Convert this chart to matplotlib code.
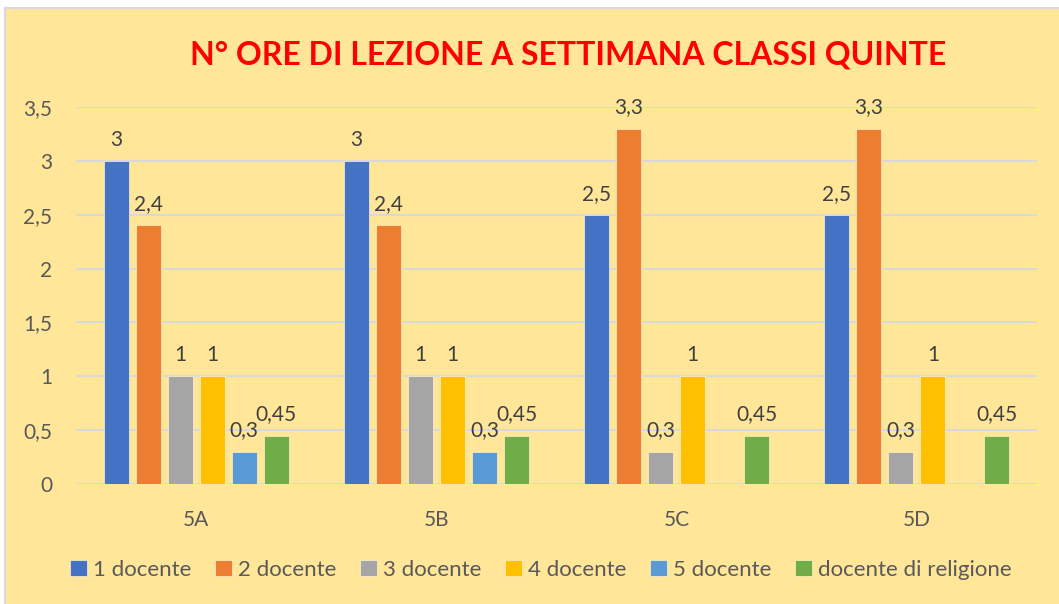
import numpy as np
import matplotlib
matplotlib.use('Agg')
import matplotlib.pyplot as plt
from matplotlib.patches import Rectangle

plt.rcParams['font.family'] = ['Lato', 'DejaVu Sans']

# data
classi = ['5A', '5B', '5C', '5D']
serie = ['1 docente', '2 docente', '3 docente', '4 docente', '5 docente', 'docente di religione']
doc1 = [3, 3, 2.5, 2.5]
doc2 = [2.4, 2.4, 3.3, 3.3]
doc3 = [1, 1, 0.3, 0.3]
doc4 = [1, 1, 1, 1]
doc5 = [0.3, 0.3, np.nan, np.nan]
religione = [0.45, 0.45, 0.45, 0.45]
valori = [doc1, doc2, doc3, doc4, doc5, religione]
colori = ['#4472C4', '#ED7D31', '#A5A5A5', '#FFC000', '#5B9BD5', '#70AD47']

bg = '#FFE699'
W, H = 1059, 604
fig = plt.figure(figsize=(W / 100, H / 100), dpi=100, facecolor='white')
fig.patches.append(Rectangle((5 / W, -0.01), 1.0, 1 - 8 / H + 0.01, transform=fig.transFigure,
                             facecolor=bg, edgecolor='#D9D9D9', linewidth=1.5, zorder=-1))

ax = fig.add_axes([76 / W, 1 - 484 / H, (1037 - 76) / W, (484 - 107) / H])
ax.set_zorder(2)
ax.patch.set_alpha(0)

x = np.arange(len(classi))
slot = 32 / 240
bw = 25 / 240
for i, (nome, vals, c) in enumerate(zip(serie, valori, colori)):
    pos = x + (i - 2.5) * slot
    bars = ax.bar(pos, np.nan_to_num(vals), width=bw, color=c, label=nome,
                  edgecolor='#FFF2CC', linewidth=0.5, zorder=3)
    etichette = ['' if np.isnan(v) else f'{v:g}'.replace('.', ',') for v in vals]
    ax.bar_label(bars, labels=etichette, padding=8, fontsize=15, color='#404040')

ax.set_xlim(-0.5, len(classi) - 0.5)
ax.set_ylim(0, 3.5)
yt = np.arange(0, 3.51, 0.5)
ax.set_yticks(yt)
ax.set_yticklabels([f'{v:g}'.replace('.', ',') for v in yt])
ax.set_xticks(x)
ax.set_xticklabels(classi)
ax.tick_params(axis='y', length=0, pad=17, labelsize=15, labelcolor='#595959')
ax.tick_params(axis='x', length=0, pad=19, labelsize=15, labelcolor='#595959')
ax.grid(axis='y', color='#D9D9D9', linewidth=1.5, zorder=0)
ax.set_axisbelow(True)
for s in ax.spines.values():
    s.set_visible(False)

fig.text(568 / W, 1 - 55 / H, 'N° ORE DI LEZIONE A SETTIMANA CLASSI QUINTE',
         ha='center', va='center', fontsize=23, fontweight='bold', color='#FF0000')

fig.legend(loc='center', bbox_to_anchor=(541 / W, 1 - 570 / H), ncol=6, frameon=False,
           fontsize=16, labelcolor='#595959', handlelength=0.75, handleheight=0.75,
           handletextpad=0.3, columnspacing=1.05)

plt.savefig('out.png', dpi=100, facecolor='white')
